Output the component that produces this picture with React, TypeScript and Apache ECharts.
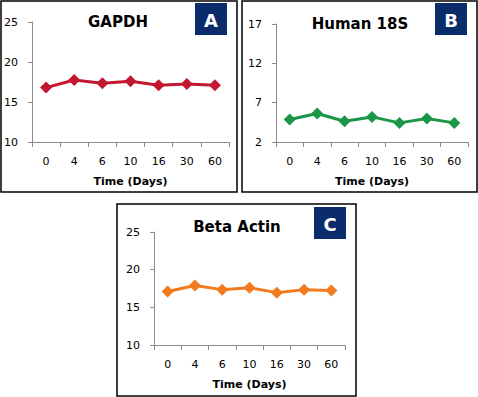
import React, { useEffect, useRef } from "react";
import * as echarts from "echarts";

const days = ["0", "4", "6", "10", "16", "30", "60"];
const gapdh = [16.8, 17.75, 17.35, 17.6, 17.1, 17.25, 17.1];
const human18s = [4.86, 5.62, 4.64, 5.19, 4.43, 4.99, 4.43];
const betaActin = [17.1, 17.9, 17.35, 17.6, 16.95, 17.35, 17.25];
const titles = ["GAPDH", "Human 18S", "Beta Actin"];
const letters = ["A", "B", "C"];
const yTicksA = [10, 15, 20, 25];
const yTicksB = [2, 7, 12, 17];

const colors = ["#C3172F", "#1A9647", "#F27A1F"];

export default function App() {
  const ref = useRef<HTMLDivElement>(null);
  useEffect(() => {
    const chart = echarts.init(ref.current!, null, { renderer: "svg" });
    const grids = [
      { left: 32, top: 22, width: 197, height: 120 },
      { left: 276, top: 24, width: 192, height: 118 },
      { left: 154, top: 232, width: 191, height: 113 },
    ];
    const ranges = [
      { min: yTicksA[0], max: yTicksA[yTicksA.length - 1], interval: 5 },
      { min: yTicksB[0], max: yTicksB[yTicksB.length - 1], interval: 5 },
      { min: yTicksA[0], max: yTicksA[yTicksA.length - 1], interval: 5 },
    ];
    const data = [gapdh, human18s, betaActin];
    const panels = [
      { x: 1, y: 1, w: 236, h: 191 },
      { x: 242, y: 1, w: 235, h: 191 },
      { x: 117, y: 204, w: 239, h: 192 },
    ];
    const titlePos = [
      { x: 118, y: 22 },
      { x: 360, y: 24 },
      { x: 237, y: 227 },
    ];
    const boxes = [
      { x: 195, y: 3 },
      { x: 435, y: 3 },
      { x: 314, y: 207 },
    ];
    const axisLine = { lineStyle: { color: "#8c8c8c", width: 1 } };
    const graphic: any[] = [];
    panels.forEach((p) =>
      graphic.push({
        type: "rect",
        shape: { x: p.x, y: p.y, width: p.w, height: p.h },
        style: { fill: "none", stroke: "#000", lineWidth: 1.5 },
        z: 10,
      })
    );
    boxes.forEach((b, i) => {
      graphic.push({
        type: "rect",
        shape: { x: b.x, y: b.y, width: 32, height: 32 },
        style: { fill: "#0B2C6A" },
      });
      graphic.push({
        type: "text",
        x: b.x + 16,
        y: b.y + 17,
        style: {
          text: letters[i],
          fill: "#fff",
          font: "bold 18px 'DejaVu Sans', sans-serif",
          align: "center",
          verticalAlign: "middle",
        },
      });
    });
    titlePos.forEach((t, i) =>
      graphic.push({
        type: "text",
        x: t.x,
        y: t.y,
        style: {
          text: titles[i],
          fill: "#000",
          font: "bold 15px 'DejaVu Sans', sans-serif",
          align: "center",
          verticalAlign: "middle",
        },
      })
    );
    chart.setOption({
      animation: false,
      backgroundColor: "#fff",
      grid: grids,
      xAxis: grids.map((_, i) => ({
        type: "category",
        gridIndex: i,
        data: days,
        boundaryGap: true,
        axisLine,
        axisTick: { show: true, length: 5, lineStyle: { color: "#8c8c8c" } },
        axisLabel: {
          color: "#000",
          fontSize: 11,
          fontFamily: "'DejaVu Sans', sans-serif",
          margin: 14,
        },
        name: "Time (Days)",
        nameLocation: "middle",
        nameGap: 34,
        nameTextStyle: {
          color: "#000",
          fontSize: 11,
          fontWeight: "bold",
          fontFamily: "'DejaVu Sans', sans-serif",
        },
        splitLine: { show: false },
      })),
      yAxis: grids.map((_, i) => ({
        type: "value",
        gridIndex: i,
        ...ranges[i],
        axisLine: { show: true, ...axisLine },
        axisTick: { show: true, length: 4, lineStyle: { color: "#8c8c8c" } },
        axisLabel: {
          color: "#000",
          fontSize: 11,
          fontFamily: "'DejaVu Sans', sans-serif",
          margin: 14,
        },
        splitLine: { show: false },
      })),
      series: data.map((d, i) => ({
        type: "line",
        xAxisIndex: i,
        yAxisIndex: i,
        data: d,
        symbol: "diamond",
        symbolSize: 12,
        lineStyle: { color: colors[i], width: 3 },
        itemStyle: { color: colors[i] },
      })),
      graphic,
    });
    return () => chart.dispose();
  }, []);
  return (
    <div
      ref={ref}
      style={{ position: "absolute", left: 0, top: 0, width: 478, height: 397 }}
    />
  );
}
